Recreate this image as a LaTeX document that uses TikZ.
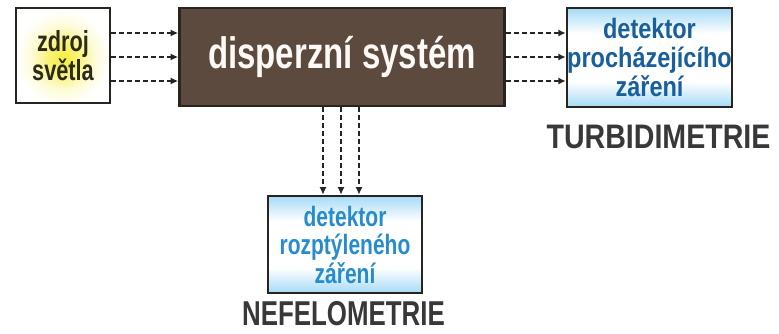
\documentclass[tikz,border=0pt]{standalone}
\usepackage{fontspec}
\usepackage{xcolor}
\usepackage{tikz}
\usetikzlibrary{positioning,calc,arrows.meta}
\newfontfamily\condsf[FakeStretch=0.75]{Liberation Sans}
\newfontfamily\semicondsf[FakeStretch=0.84]{Liberation Sans}
\definecolor{brownbox}{RGB}{92,74,62}
\definecolor{edgedark}{RGB}{40,36,32}
\definecolor{skyblue}{RGB}{70,180,236}
\definecolor{navytext}{RGB}{25,95,155}
\definecolor{bluetext}{RGB}{38,140,205}
\definecolor{glowyellow}{RGB}{245,238,60}
\pgfdeclareverticalshading{detglow}{100bp}{color(0bp)=(skyblue); color(22bp)=(skyblue!60); color(38bp)=(white); color(62bp)=(white); color(78bp)=(skyblue!60); color(100bp)=(skyblue)}
\pgfdeclareradialshading{lampglow}{\pgfpoint{0bp}{-2bp}}{color(0bp)=(glowyellow); color(8bp)=(glowyellow!70); color(17bp)=(glowyellow!20); color(25bp)=(white); color(50bp)=(white)}

\begin{document}
\begin{tikzpicture}[x=1pt,y=-1pt,
    box/.style={rectangle, draw=edgedark, line width=2.6pt, inner sep=0pt, align=center},
    detbox/.style={box, shading=detglow},
    beam/.style={draw=edgedark, line width=2.1pt, dash pattern=on 5pt off 3pt, -{Latex[length=7.5pt,width=7pt]}},
    method/.style={inner sep=0pt, anchor=north, text=black!78}
]
    \useasboundingbox (0,0) rectangle (779,334);
    \node[box, minimum width=94pt, minimum height=95pt, shading=lampglow,
          font=\condsf\bfseries\fontsize{29}{26}\selectfont, text={rgb,255:red,45;green,42;blue,25}]
          (source) at (63,55.5) {zdroj\\světla};
    \node[box, fill=brownbox, minimum width=325pt, minimum height=98pt,
          font=\condsf\bfseries\fontsize{44}{44}\selectfont, text=white!95!brown]
          (medium) at (342,57) {disperzní systém};
    \node[detbox, minimum width=155pt, minimum height=99pt,
          font=\semicondsf\bfseries\fontsize{28}{29}\selectfont, text=navytext]
          (turbdet) at (649.5,57.5) {detektor\\procházejícího\\záření};
    \node[detbox, minimum width=154pt, minimum height=97pt,
          font=\condsf\bfseries\fontsize{28}{28.5}\selectfont, text=bluetext]
          (nefdet) at (345,244.5) {detektor\\rozptýleného\\záření};
    \node[method, below=17pt of turbdet, xshift=9pt, font=\semicondsf\bfseries\fontsize{34}{34}\selectfont] (turb) {TURBIDIMETRIE};
    \node[method, below=7pt of nefdet, xshift=-1.5pt, font=\condsf\bfseries\fontsize{34.5}{34.5}\selectfont] (nef) {NEFELOMETRIE};
    % light beams
    \foreach \y in {33,57,81} {
        \draw[beam] (source.east |- 0,\y) -- (medium.west |- 0,\y);
        \draw[beam] (medium.east |- 0,\y) -- (turbdet.west |- 0,\y);
    }
    \foreach \x in {323,341,359}
        \draw[beam] (medium.south -| \x,0) -- (nefdet.north -| \x,0);
\end{tikzpicture}
\end{document}
